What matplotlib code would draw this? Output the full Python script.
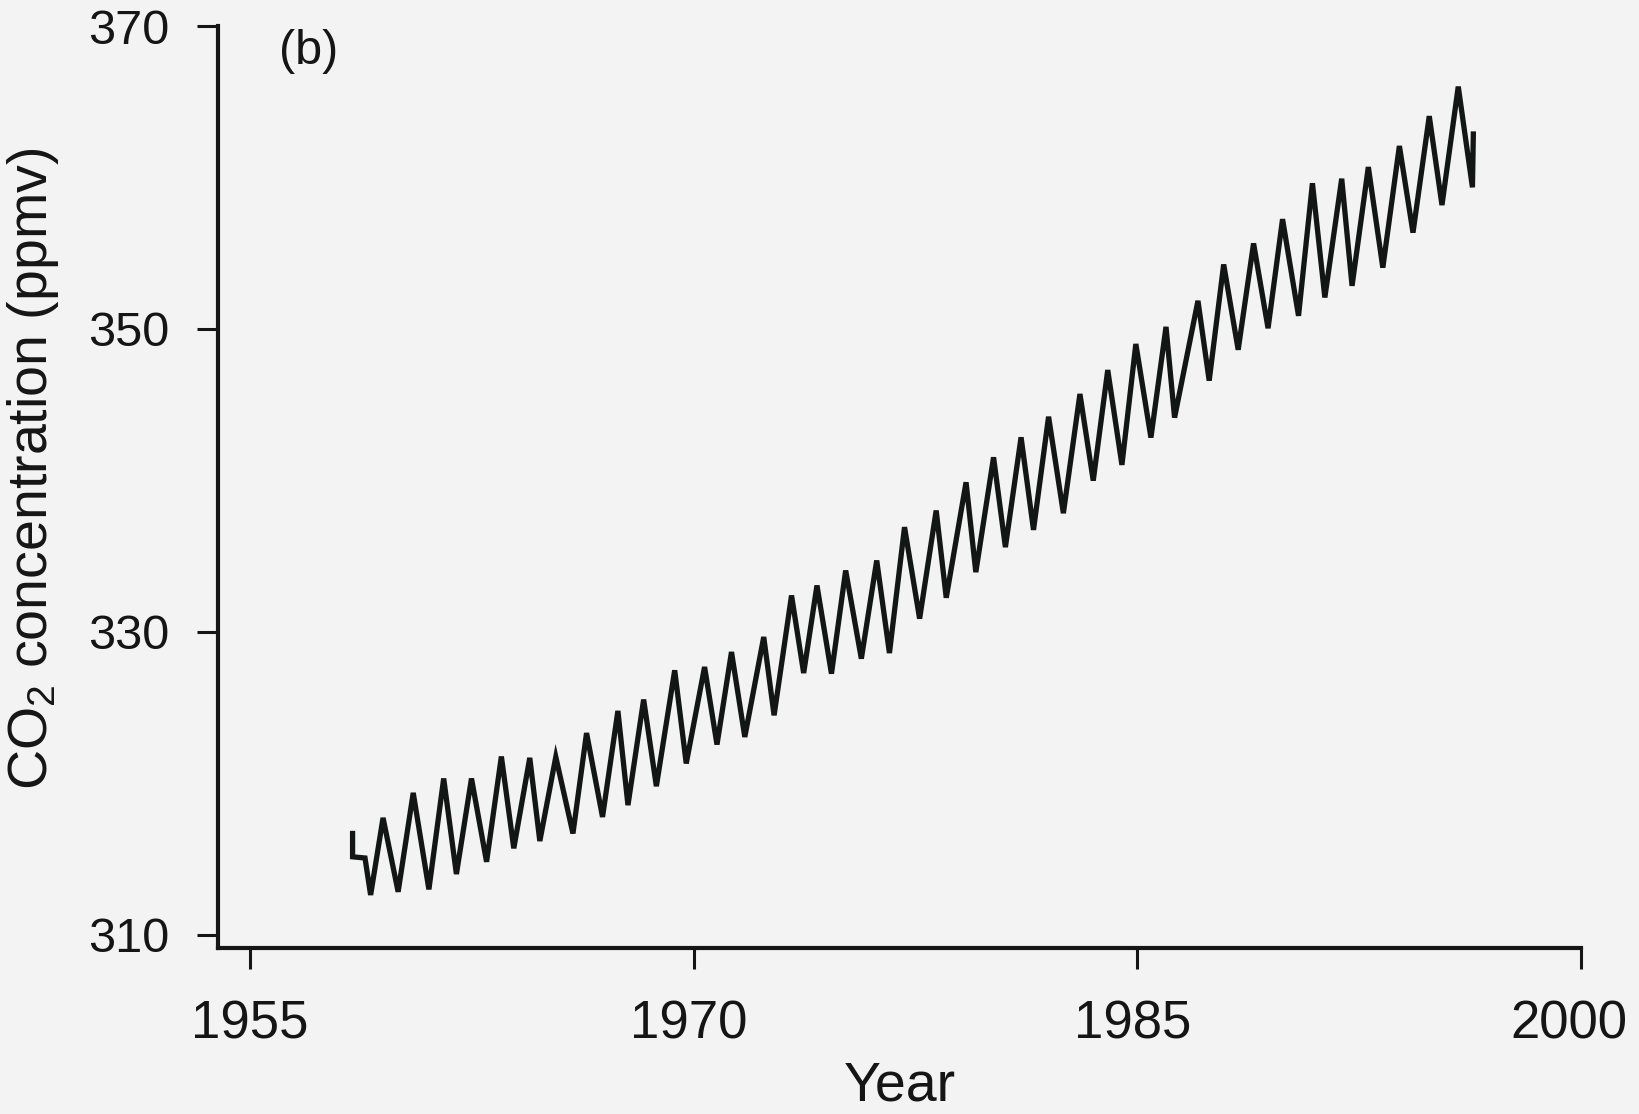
import matplotlib
matplotlib.use("Agg")
import matplotlib.pyplot as plt
import matplotlib.transforms as mtransforms

plt.rcParams['font.family'] = ['Liberation Sans', 'DejaVu Sans']
plt.rcParams['mathtext.default'] = 'regular'

# Vertices of the plotted curve (time in years, CO2 in ppmv)
years = [1958.47, 1958.47, 1958.89,
         1959.08, 1959.50, 1960.01, 1960.52, 1961.05, 1961.55, 1961.98, 1962.49,
         1963.00, 1963.50, 1963.92, 1964.46, 1964.80, 1965.34, 1965.92, 1966.38,
         1966.92, 1967.44, 1967.78, 1968.31, 1968.74, 1969.36, 1969.75, 1970.37,
         1970.79, 1971.28, 1971.73, 1972.37, 1972.72, 1973.31, 1973.72, 1974.17,
         1974.66, 1975.14, 1975.67, 1976.19, 1976.62, 1977.13, 1977.64, 1978.20,
         1978.54, 1979.21, 1979.54, 1980.14, 1980.54, 1981.07, 1981.49, 1982.00,
         1982.50, 1983.06, 1983.51, 1984.00, 1984.48, 1984.95, 1985.46, 1985.97,
         1986.26, 1987.05, 1987.43, 1987.92, 1988.41, 1988.93, 1989.42, 1989.91,
         1990.45, 1990.92, 1991.34, 1991.91, 1992.26, 1992.81, 1993.30, 1993.86,
         1994.32, 1994.87, 1995.30, 1995.85, 1996.33, 1996.36]
co2 = [316.70, 315.16, 315.08,
       312.64, 317.73, 312.85, 319.38, 313.01, 320.33, 314.02, 320.33,
       314.83, 321.78, 315.72, 321.69, 316.20, 321.75, 316.70, 323.33,
       317.79, 324.79, 318.57, 325.54, 319.82, 327.47, 321.32, 327.69,
       322.57, 328.68, 323.07, 329.67, 324.50, 332.41, 327.29, 333.07,
       327.25, 334.06, 328.24, 334.72, 328.61, 336.92, 330.88, 338.02,
       332.26, 339.88, 333.95, 341.53, 335.60, 342.85, 336.74, 344.21,
       337.84, 345.71, 339.99, 347.29, 341.03, 349.01, 342.83, 350.14,
       344.15, 351.86, 346.59, 354.26, 348.63, 355.65, 350.05, 357.25,
       350.87, 359.62, 352.08, 359.92, 352.85, 360.69, 354.05, 362.08,
       356.36, 364.05, 358.18, 366.00, 359.35, 362.87]

xticks = [1955, 1970, 1985, 2000]
yticks = [310, 330, 350, 370]

W, H = 1639, 1114
fig = plt.figure(figsize=(W / 100, H / 100), dpi=100, facecolor='#f3f3f3')
ax = fig.add_axes([218 / W, 1 - 948 / H, (1581 - 218) / W, (948 - 26) / H])
ax.set_facecolor('#f3f3f3')

ax.plot(years, co2, color='#121614', lw=3.8, solid_joinstyle='miter')

ax.set_xlim(1953.92, 2000)
ax.set_ylim(309.14, 370)
ax.set_xticks(xticks)
ax.set_yticks(yticks)
ax.set_xticklabels([str(t) for t in xticks], fontsize=38)
ax.set_yticklabels([str(t) for t in yticks], fontsize=35)

for s in ['top', 'right']:
    ax.spines[s].set_visible(False)
for s in ['left', 'bottom']:
    ax.spines[s].set_linewidth(3.0)
    ax.spines[s].set_color('#151515')

ax.tick_params(axis='x', direction='out', length=15, width=2.2, pad=22, colors='#151515')
ax.tick_params(axis='y', direction='out', length=15, width=2.2, pad=20, colors='#151515')

# the scanned labels drift slightly left of their ticks toward the right end
shifts = [0, -5, -5, -12]
for lab, dx in zip(ax.get_xticklabels(), shifts):
    lab.set_transform(lab.get_transform() +
                      mtransforms.ScaledTranslation(dx / 100, 0, fig.dpi_scale_trans))

ax.set_xlabel('Year', fontsize=40, color='#151515', labelpad=8)
ax.set_ylabel(r'CO$_2$ concentration (ppmv)', fontsize=40, color='#151515')
ax.yaxis.label.set_va('center')
ax.yaxis.set_label_coords(-0.136, 0.52)

ax.text(1957.0, 368.3, '(b)', fontsize=35, color='#151515', ha='center', va='center')

fig.savefig('out.png', dpi=100, facecolor=fig.get_facecolor())
